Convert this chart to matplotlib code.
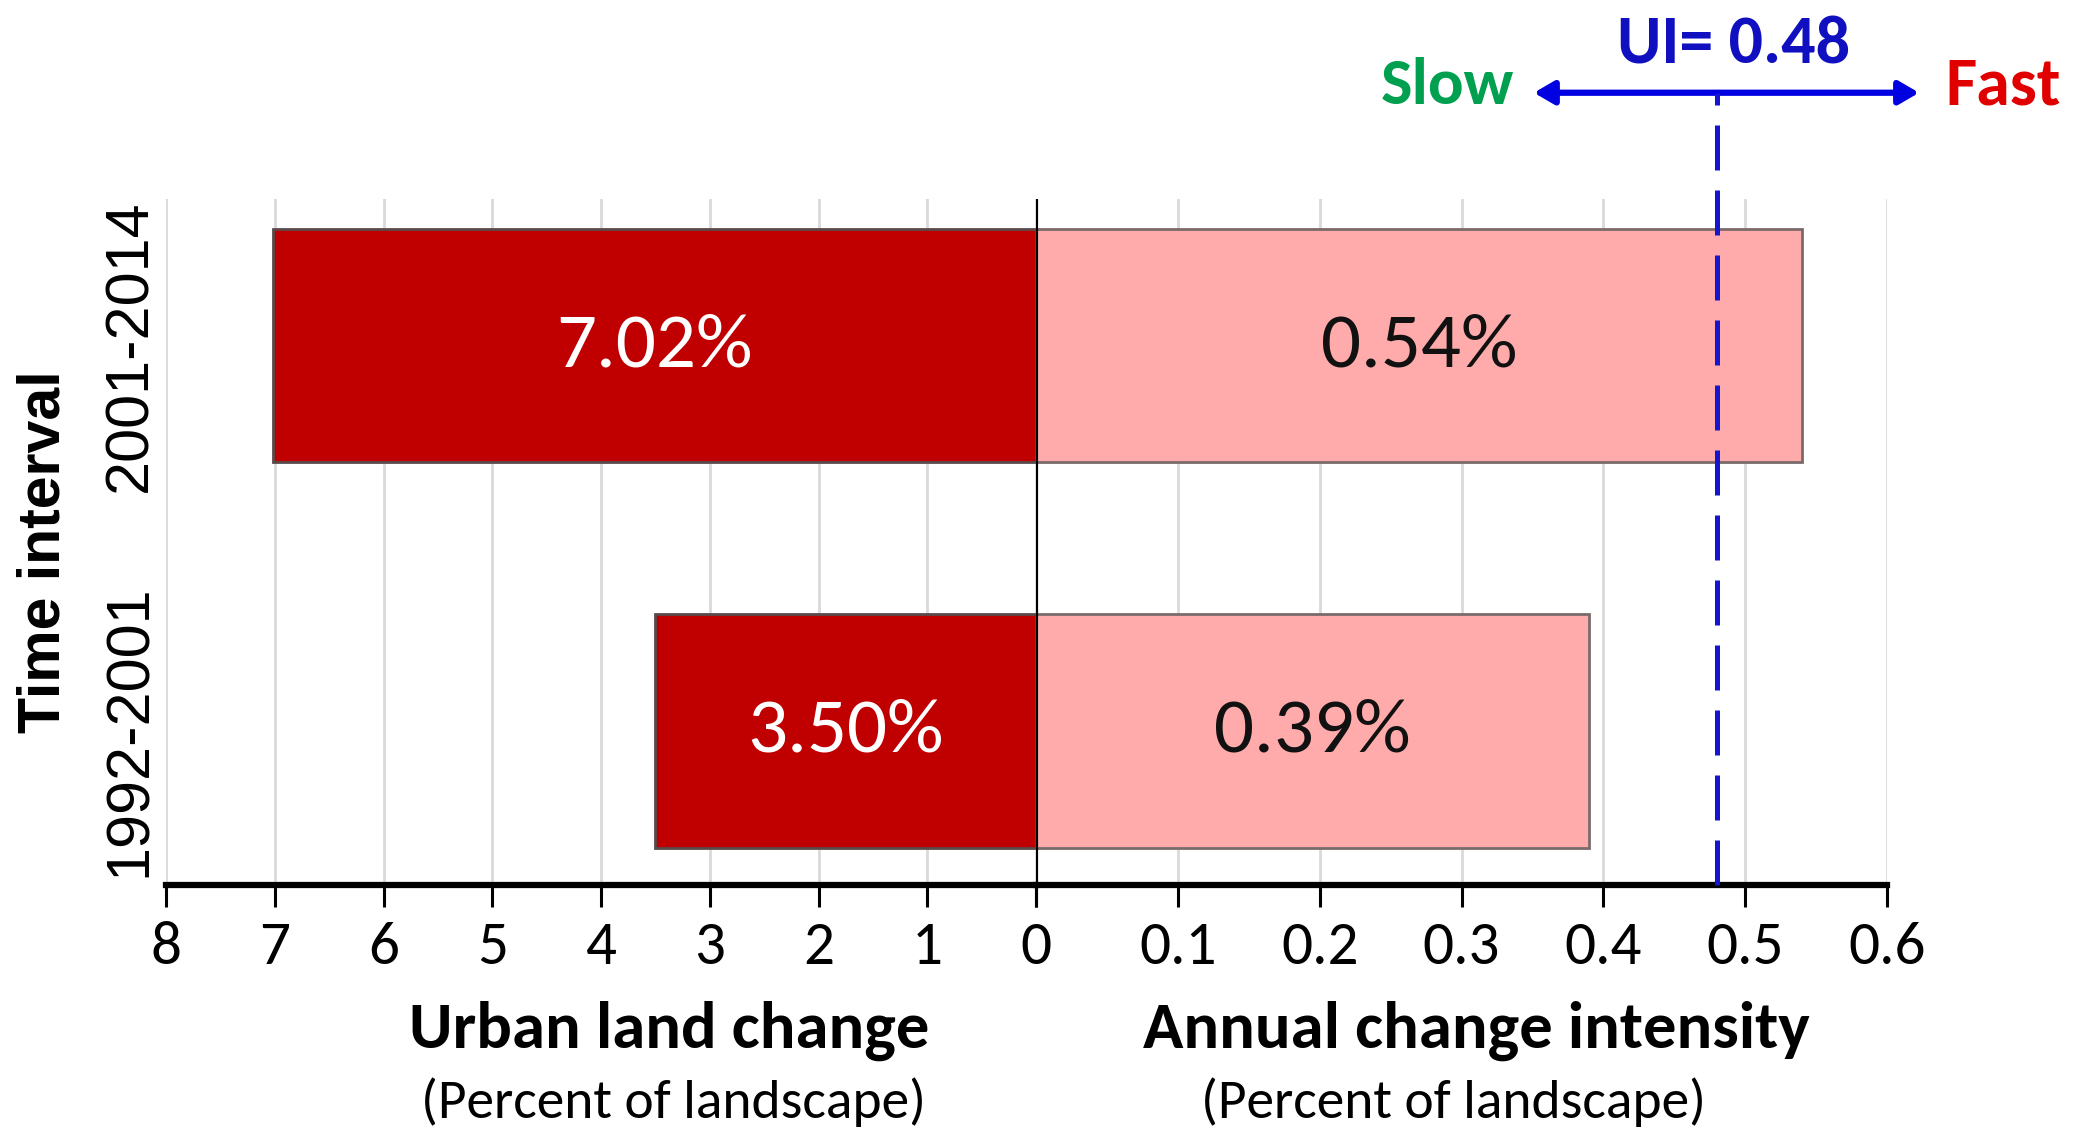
import matplotlib
matplotlib.use("Agg")
import matplotlib.pyplot as plt
import numpy as np

# data
intervals = ["1992-2001", "2001-2014"]
urban_change = [3.50, 7.02]        # percent of landscape
annual_intensity = [0.39, 0.54]    # percent of landscape per year
uniform_intensity = 0.48

left_ticks = [8, 7, 6, 5, 4, 3, 2, 1, 0]
right_ticks = [0, 0.1, 0.2, 0.3, 0.4, 0.5, 0.6]

calibri_like = ["Carlito", "Lato", "DejaVu Sans"]
arial_like = ["Liberation Sans", "DejaVu Sans"]

fig = plt.figure(figsize=(20.78, 11.46), dpi=100)
ax_l = fig.add_axes([0.0799, 0.2277, 0.4187, 0.5986])
ax_r = fig.add_axes([0.4986, 0.2277, 0.4095, 0.5986], sharey=ax_l)

ypos = np.arange(len(intervals))
bar_h = 0.606

ax_l.barh(ypos, urban_change, height=bar_h, color="#C00000",
          edgecolor="#5a4a4a", linewidth=2, zorder=3)
ax_r.barh(ypos, annual_intensity, height=bar_h, color="#FFABAB",
          edgecolor="#7a6a6a", linewidth=2, zorder=3)

for y, v in zip(ypos, urban_change):
    ax_l.text(v / 2, y, f"{v:.2f}%", color="white", ha="center", va="center",
              fontsize=57, family=calibri_like, zorder=4)
for y, v in zip(ypos, annual_intensity):
    ax_r.text(v / 2, y, f"{v:.2f}%", color="#111111", ha="center", va="center",
              fontsize=57, family=calibri_like, zorder=4)

ax_l.set_xlim(8, 0)
ax_r.set_xlim(0, 0.6)
ax_l.set_ylim(-0.40, 1.38)

for ax, ticks in ((ax_l, left_ticks), (ax_r, right_ticks)):
    ax.set_xticks(ticks)
    ax.grid(axis="x", color="#D9D9D9", linewidth=2, zorder=0)
    for s in ("top", "right", "left"):
        ax.spines[s].set_visible(False)
    ax.spines["bottom"].set_linewidth(4.5)
    ax.tick_params(axis="x", direction="out", length=16, width=2.2, pad=10,
                   labelsize=44)
    for lab in ax.get_xticklabels():
        lab.set_family(calibri_like)

ax_l.set_xticklabels([str(t) for t in left_ticks[:-1]] + [""])
ax_r.set_xticklabels([f"{t:g}" for t in right_ticks])

ax_l.set_yticks(ypos)
ax_l.set_yticklabels(intervals)
ax_l.tick_params(axis="y", length=0, pad=5)
plt.setp(ax_l.get_yticklabels(), rotation=90, va="center", fontsize=44,
         family=arial_like)
ax_r.tick_params(axis="y", left=False, labelleft=False)

# zero line between the two panels
ax_r.axvline(0, color="black", linewidth=3, zorder=5)

# uniform intensity line and slow/fast arrow
ax_r.axvline(uniform_intensity, ymin=0, ymax=1.155, color="#1515D0",
             linewidth=3.6, dashes=(9, 4), clip_on=False, zorder=6)
ax_r.annotate("", xy=(0.351, 1.155), xytext=(0.6226, 1.155),
              xycoords=("data", "axes fraction"),
              textcoords=("data", "axes fraction"),
              arrowprops=dict(arrowstyle="<|-|>,head_length=1.2,head_width=0.7",
                              color="#0000E0", lw=4.5, shrinkA=0, shrinkB=0),
              annotation_clip=False)
ax_r.text(0.492, 1.225, f"UI= {uniform_intensity}", color="#1010C0",
          fontsize=49, fontweight="bold", ha="center", va="center",
          family=calibri_like, transform=ax_r.get_xaxis_transform())
ax_r.text(0.2898, 1.165, "Slow", color="#00A050", fontsize=48,
          fontweight="bold", ha="center", va="center", family=calibri_like,
          transform=ax_r.get_xaxis_transform())
ax_r.text(0.682, 1.165, "Fast", color="#E00000", fontsize=49,
          fontweight="bold", ha="center", va="center", family=calibri_like,
          transform=ax_r.get_xaxis_transform())

# axis titles
fig.text(0.322, 0.1003, "Urban land change", fontsize=48, fontweight="bold",
         ha="center", va="center", family=calibri_like)
fig.text(0.3243, 0.0384, "(Percent of landscape)", fontsize=40,
         ha="center", va="center", family=calibri_like)
fig.text(0.7103, 0.1003, "Annual change intensity", fontsize=48,
         fontweight="bold", ha="center", va="center", family=calibri_like)
fig.text(0.6997, 0.0384, "(Percent of landscape)", fontsize=40,
         ha="center", va="center", family=calibri_like)
fig.text(0.0212, 0.519, "Time interval", fontsize=42.5, fontweight="bold",
         rotation=90, ha="center", va="center", family=arial_like)

fig.savefig("out.png", dpi=100)
